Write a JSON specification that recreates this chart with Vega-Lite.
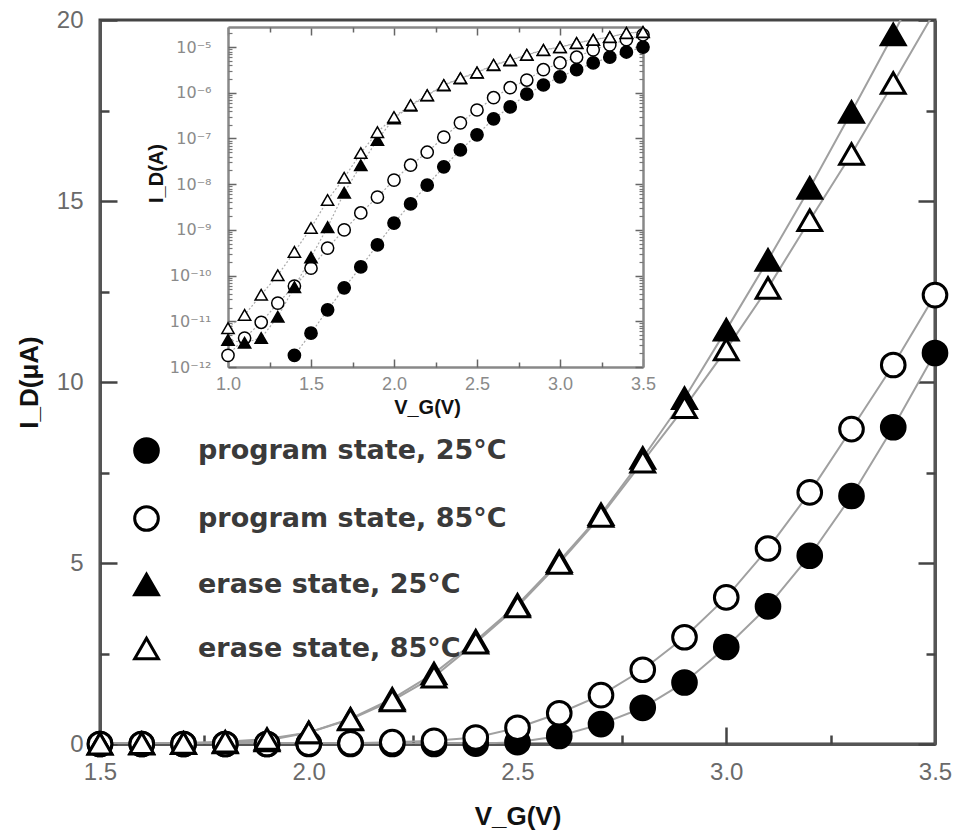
{
  "$schema": "https://vega.github.io/schema/vega-lite/v6.json",
  "width": 835,
  "height": 724,
  "autosize": "none",
  "padding": {"left": 100, "top": 20, "right": 24, "bottom": 92},
  "datasets": {
    "main": [
      {"s": "program state, 25°C", "V": 1.5, "I": 0}, {"s": "program state, 25°C", "V": 1.6, "I": 0}, {"s": "program state, 25°C", "V": 1.7, "I": 0}, {"s": "program state, 25°C", "V": 1.8, "I": 0}, {"s": "program state, 25°C", "V": 1.9, "I": 0}, {"s": "program state, 25°C", "V": 2.0, "I": 0}, {"s": "program state, 25°C", "V": 2.1, "I": 0}, {"s": "program state, 25°C", "V": 2.2, "I": 0}, {"s": "program state, 25°C", "V": 2.3, "I": 0}, {"s": "program state, 25°C", "V": 2.4, "I": 0.01}, {"s": "program state, 25°C", "V": 2.5, "I": 0.05}, {"s": "program state, 25°C", "V": 2.6, "I": 0.22}, {"s": "program state, 25°C", "V": 2.7, "I": 0.55}, {"s": "program state, 25°C", "V": 2.8, "I": 1.0}, {"s": "program state, 25°C", "V": 2.9, "I": 1.7}, {"s": "program state, 25°C", "V": 3.0, "I": 2.68}, {"s": "program state, 25°C", "V": 3.1, "I": 3.8}, {"s": "program state, 25°C", "V": 3.2, "I": 5.2}, {"s": "program state, 25°C", "V": 3.3, "I": 6.85}, {"s": "program state, 25°C", "V": 3.4, "I": 8.75}, {"s": "program state, 25°C", "V": 3.5, "I": 10.8},
      {"s": "program state, 85°C", "V": 1.5, "I": 0}, {"s": "program state, 85°C", "V": 1.6, "I": 0}, {"s": "program state, 85°C", "V": 1.7, "I": 0}, {"s": "program state, 85°C", "V": 1.8, "I": 0}, {"s": "program state, 85°C", "V": 1.9, "I": 0}, {"s": "program state, 85°C", "V": 2.0, "I": 0.01}, {"s": "program state, 85°C", "V": 2.1, "I": 0.02}, {"s": "program state, 85°C", "V": 2.2, "I": 0.05}, {"s": "program state, 85°C", "V": 2.3, "I": 0.09}, {"s": "program state, 85°C", "V": 2.4, "I": 0.18}, {"s": "program state, 85°C", "V": 2.5, "I": 0.45}, {"s": "program state, 85°C", "V": 2.6, "I": 0.85}, {"s": "program state, 85°C", "V": 2.7, "I": 1.35}, {"s": "program state, 85°C", "V": 2.8, "I": 2.05}, {"s": "program state, 85°C", "V": 2.9, "I": 2.95}, {"s": "program state, 85°C", "V": 3.0, "I": 4.05}, {"s": "program state, 85°C", "V": 3.1, "I": 5.4}, {"s": "program state, 85°C", "V": 3.2, "I": 6.95}, {"s": "program state, 85°C", "V": 3.3, "I": 8.7}, {"s": "program state, 85°C", "V": 3.4, "I": 10.47}, {"s": "program state, 85°C", "V": 3.5, "I": 12.4},
      {"s": "erase state, 25°C", "V": 1.5, "I": 0.01}, {"s": "erase state, 25°C", "V": 1.6, "I": 0.01}, {"s": "erase state, 25°C", "V": 1.7, "I": 0.02}, {"s": "erase state, 25°C", "V": 1.8, "I": 0.04}, {"s": "erase state, 25°C", "V": 1.9, "I": 0.1}, {"s": "erase state, 25°C", "V": 2.0, "I": 0.32}, {"s": "erase state, 25°C", "V": 2.1, "I": 0.7}, {"s": "erase state, 25°C", "V": 2.2, "I": 1.25}, {"s": "erase state, 25°C", "V": 2.3, "I": 1.95}, {"s": "erase state, 25°C", "V": 2.4, "I": 2.85}, {"s": "erase state, 25°C", "V": 2.5, "I": 3.85}, {"s": "erase state, 25°C", "V": 2.6, "I": 5.05}, {"s": "erase state, 25°C", "V": 2.7, "I": 6.35}, {"s": "erase state, 25°C", "V": 2.8, "I": 7.9}, {"s": "erase state, 25°C", "V": 2.9, "I": 9.55}, {"s": "erase state, 25°C", "V": 3.0, "I": 11.44}, {"s": "erase state, 25°C", "V": 3.1, "I": 13.37}, {"s": "erase state, 25°C", "V": 3.2, "I": 15.36}, {"s": "erase state, 25°C", "V": 3.3, "I": 17.46}, {"s": "erase state, 25°C", "V": 3.4, "I": 19.6}, {"s": "erase state, 25°C", "V": 3.5, "I": 21.9},
      {"s": "erase state, 85°C", "V": 1.5, "I": 0.01}, {"s": "erase state, 85°C", "V": 1.6, "I": 0.02}, {"s": "erase state, 85°C", "V": 1.7, "I": 0.03}, {"s": "erase state, 85°C", "V": 1.8, "I": 0.06}, {"s": "erase state, 85°C", "V": 1.9, "I": 0.14}, {"s": "erase state, 85°C", "V": 2.0, "I": 0.32}, {"s": "erase state, 85°C", "V": 2.1, "I": 0.68}, {"s": "erase state, 85°C", "V": 2.2, "I": 1.2}, {"s": "erase state, 85°C", "V": 2.3, "I": 1.86}, {"s": "erase state, 85°C", "V": 2.4, "I": 2.8}, {"s": "erase state, 85°C", "V": 2.5, "I": 3.8}, {"s": "erase state, 85°C", "V": 2.6, "I": 5.0}, {"s": "erase state, 85°C", "V": 2.7, "I": 6.3}, {"s": "erase state, 85°C", "V": 2.8, "I": 7.8}, {"s": "erase state, 85°C", "V": 2.9, "I": 9.3}, {"s": "erase state, 85°C", "V": 3.0, "I": 10.9}, {"s": "erase state, 85°C", "V": 3.1, "I": 12.6}, {"s": "erase state, 85°C", "V": 3.2, "I": 14.47}, {"s": "erase state, 85°C", "V": 3.3, "I": 16.3}, {"s": "erase state, 85°C", "V": 3.4, "I": 18.26}, {"s": "erase state, 85°C", "V": 3.5, "I": 20.25}
    ],
    "inset": [
      {"s": "program state, 25°C", "V": 1.4, "I": 1.8e-12}, {"s": "program state, 25°C", "V": 1.5, "I": 5.5e-12}, {"s": "program state, 25°C", "V": 1.6, "I": 1.78e-11}, {"s": "program state, 25°C", "V": 1.7, "I": 5.4e-11}, {"s": "program state, 25°C", "V": 1.8, "I": 1.55e-10}, {"s": "program state, 25°C", "V": 1.9, "I": 4.7e-10}, {"s": "program state, 25°C", "V": 2.0, "I": 1.41e-9}, {"s": "program state, 25°C", "V": 2.1, "I": 3.7e-9}, {"s": "program state, 25°C", "V": 2.2, "I": 9.5e-9}, {"s": "program state, 25°C", "V": 2.3, "I": 2.4e-8}, {"s": "program state, 25°C", "V": 2.4, "I": 5.6e-8}, {"s": "program state, 25°C", "V": 2.5, "I": 1.2e-7}, {"s": "program state, 25°C", "V": 2.6, "I": 2.7e-7}, {"s": "program state, 25°C", "V": 2.7, "I": 4.9e-7}, {"s": "program state, 25°C", "V": 2.8, "I": 9.3e-7}, {"s": "program state, 25°C", "V": 2.9, "I": 1.48e-6}, {"s": "program state, 25°C", "V": 3.0, "I": 2.24e-6}, {"s": "program state, 25°C", "V": 3.1, "I": 3.2e-6}, {"s": "program state, 25°C", "V": 3.2, "I": 4.5e-6}, {"s": "program state, 25°C", "V": 3.3, "I": 6.0e-6}, {"s": "program state, 25°C", "V": 3.4, "I": 7.8e-6}, {"s": "program state, 25°C", "V": 3.5, "I": 1.0e-5},
      {"s": "program state, 85°C", "V": 1.0, "I": 1.8e-12}, {"s": "program state, 85°C", "V": 1.1, "I": 4.3e-12}, {"s": "program state, 85°C", "V": 1.2, "I": 9.5e-12}, {"s": "program state, 85°C", "V": 1.3, "I": 2.5e-11}, {"s": "program state, 85°C", "V": 1.4, "I": 5.9e-11}, {"s": "program state, 85°C", "V": 1.5, "I": 1.45e-10}, {"s": "program state, 85°C", "V": 1.6, "I": 4.0e-10}, {"s": "program state, 85°C", "V": 1.7, "I": 1.0e-9}, {"s": "program state, 85°C", "V": 1.8, "I": 2.35e-9}, {"s": "program state, 85°C", "V": 1.9, "I": 5.2e-9}, {"s": "program state, 85°C", "V": 2.0, "I": 1.23e-8}, {"s": "program state, 85°C", "V": 2.1, "I": 2.6e-8}, {"s": "program state, 85°C", "V": 2.2, "I": 5.0e-8}, {"s": "program state, 85°C", "V": 2.3, "I": 1.07e-7}, {"s": "program state, 85°C", "V": 2.4, "I": 2.2e-7}, {"s": "program state, 85°C", "V": 2.5, "I": 4.2e-7}, {"s": "program state, 85°C", "V": 2.6, "I": 7.8e-7}, {"s": "program state, 85°C", "V": 2.7, "I": 1.29e-6}, {"s": "program state, 85°C", "V": 2.8, "I": 1.9e-6}, {"s": "program state, 85°C", "V": 2.9, "I": 3.2e-6}, {"s": "program state, 85°C", "V": 3.0, "I": 4.5e-6}, {"s": "program state, 85°C", "V": 3.1, "I": 6.0e-6}, {"s": "program state, 85°C", "V": 3.2, "I": 8.7e-6}, {"s": "program state, 85°C", "V": 3.3, "I": 1.12e-5}, {"s": "program state, 85°C", "V": 3.4, "I": 1.45e-5}, {"s": "program state, 85°C", "V": 3.5, "I": 1.86e-5},
      {"s": "erase state, 25°C", "V": 1.0, "I": 3.9e-12}, {"s": "erase state, 25°C", "V": 1.1, "I": 3.4e-12}, {"s": "erase state, 25°C", "V": 1.2, "I": 4.3e-12}, {"s": "erase state, 25°C", "V": 1.3, "I": 1.26e-11}, {"s": "erase state, 25°C", "V": 1.4, "I": 5.6e-11}, {"s": "erase state, 25°C", "V": 1.5, "I": 2.5e-10}, {"s": "erase state, 25°C", "V": 1.6, "I": 1.15e-9}, {"s": "erase state, 25°C", "V": 1.7, "I": 6.5e-9}, {"s": "erase state, 25°C", "V": 1.8, "I": 2.6e-8}, {"s": "erase state, 25°C", "V": 1.9, "I": 9.3e-8}, {"s": "erase state, 25°C", "V": 2.0, "I": 2.75e-7}, {"s": "erase state, 25°C", "V": 2.1, "I": 5.2e-7}, {"s": "erase state, 25°C", "V": 2.2, "I": 8.7e-7}, {"s": "erase state, 25°C", "V": 2.3, "I": 1.45e-6}, {"s": "erase state, 25°C", "V": 2.4, "I": 2.05e-6}, {"s": "erase state, 25°C", "V": 2.5, "I": 2.75e-6}, {"s": "erase state, 25°C", "V": 2.6, "I": 4.0e-6}, {"s": "erase state, 25°C", "V": 2.7, "I": 5.1e-6}, {"s": "erase state, 25°C", "V": 2.8, "I": 6.7e-6}, {"s": "erase state, 25°C", "V": 2.9, "I": 8.6e-6}, {"s": "erase state, 25°C", "V": 3.0, "I": 9.9e-6}, {"s": "erase state, 25°C", "V": 3.1, "I": 1.22e-5}, {"s": "erase state, 25°C", "V": 3.2, "I": 1.44e-5}, {"s": "erase state, 25°C", "V": 3.3, "I": 1.65e-5}, {"s": "erase state, 25°C", "V": 3.4, "I": 2.02e-5}, {"s": "erase state, 25°C", "V": 3.5, "I": 2.12e-5},
      {"s": "erase state, 85°C", "V": 1.0, "I": 7.1e-12}, {"s": "erase state, 85°C", "V": 1.1, "I": 1.38e-11}, {"s": "erase state, 85°C", "V": 1.2, "I": 3.8e-11}, {"s": "erase state, 85°C", "V": 1.3, "I": 1.02e-10}, {"s": "erase state, 85°C", "V": 1.4, "I": 3.3e-10}, {"s": "erase state, 85°C", "V": 1.5, "I": 1.1e-9}, {"s": "erase state, 85°C", "V": 1.6, "I": 4.5e-9}, {"s": "erase state, 85°C", "V": 1.7, "I": 1.38e-8}, {"s": "erase state, 85°C", "V": 1.8, "I": 4.8e-8}, {"s": "erase state, 85°C", "V": 1.9, "I": 1.38e-7}, {"s": "erase state, 85°C", "V": 2.0, "I": 2.95e-7}, {"s": "erase state, 85°C", "V": 2.1, "I": 5.4e-7}, {"s": "erase state, 85°C", "V": 2.2, "I": 8.9e-7}, {"s": "erase state, 85°C", "V": 2.3, "I": 1.48e-6}, {"s": "erase state, 85°C", "V": 2.4, "I": 2.1e-6}, {"s": "erase state, 85°C", "V": 2.5, "I": 2.8e-6}, {"s": "erase state, 85°C", "V": 2.6, "I": 4.1e-6}, {"s": "erase state, 85°C", "V": 2.7, "I": 5.2e-6}, {"s": "erase state, 85°C", "V": 2.8, "I": 6.8e-6}, {"s": "erase state, 85°C", "V": 2.9, "I": 8.7e-6}, {"s": "erase state, 85°C", "V": 3.0, "I": 1.0e-5}, {"s": "erase state, 85°C", "V": 3.1, "I": 1.23e-5}, {"s": "erase state, 85°C", "V": 3.2, "I": 1.45e-5}, {"s": "erase state, 85°C", "V": 3.3, "I": 1.66e-5}, {"s": "erase state, 85°C", "V": 3.4, "I": 2.04e-5}, {"s": "erase state, 85°C", "V": 3.5, "I": 2.14e-5}
    ]
  },
  "layer": [
    {
      "data": {"name": "main"},
      "mark": {"type": "line", "color": "#a0a0a0", "strokeWidth": 2, "clip": true},
      "encoding": {
        "x": {"field": "V", "type": "quantitative", "scale": {"domain": [1.5, 3.5], "nice": false, "zero": false},
          "axis": {"orient": "bottom", "values": [1.5, 2.0, 2.5, 3.0, 3.5], "format": ".1f", "ticks": false, "labelPadding": 16, "labelFontSize": 24, "labelColor": "#6a6a6a", "labelFlush": false, "domainColor": "#555", "domainWidth": 3, "title": "V_G(V)", "titleFontSize": 26, "titleFontWeight": "bold", "titleColor": "#111", "titlePadding": 19}},
        "y": {"field": "I", "type": "quantitative", "scale": {"domain": [0, 20], "nice": false, "zero": false},
          "axis": {"orient": "left", "values": [0, 5, 10, 15, 20], "ticks": false, "labelPadding": 17, "labelFontSize": 24, "labelColor": "#6a6a6a", "domainColor": "#555", "domainWidth": 3, "title": "I_D(μA)", "titleFontSize": 26, "titleFontWeight": "bold", "titleColor": "#111", "titlePadding": 14}},
        "detail": {"field": "s"}
      }
    },
    {
      "data": {"name": "main"},
      "transform": [{"filter": "datum.I <= 20"}],
      "mark": {"type": "point", "filled": true, "strokeWidth": 3, "size": 560, "opacity": 1},
      "encoding": {
        "x": {"field": "V", "type": "quantitative", "scale": {"domain": [1.5, 3.5], "nice": false, "zero": false},
          "axis": {"orient": "top", "offset": -724, "values": [1.5, 2.0, 2.5, 3.0, 3.5], "tickSize": 17, "tickWidth": 2.5, "tickColor": "#444", "labels": false, "domain": false, "title": null}},
        "y": {"field": "I", "type": "quantitative", "scale": {"domain": [0, 20], "nice": false, "zero": false},
          "axis": {"orient": "right", "offset": -835, "values": [0, 5, 10, 15, 20], "tickSize": 17, "tickWidth": 2.5, "tickColor": "#444", "labels": false, "domain": false, "title": null}},
        "shape": {"field": "s", "type": "nominal", "sort": null,
          "scale": {"domain": ["program state, 25°C", "program state, 85°C", "erase state, 25°C", "erase state, 85°C"], "range": ["circle", "circle", "triangle-up", "triangle-up"]},
          "legend": {"title": null, "orient": "none", "legendX": 33, "legendY": 417, "padding": 0, "labelFontSize": 27, "labelFont": "DejaVu Sans", "labelFontWeight": "bold", "labelColor": "#3a3a3a", "labelOffset": 38, "rowPadding": 31, "symbolSize": 560, "symbolStrokeWidth": 3, "labelLimit": 500}},
        "fill": {"field": "s", "type": "nominal", "sort": null,
          "scale": {"domain": ["program state, 25°C", "program state, 85°C", "erase state, 25°C", "erase state, 85°C"], "range": ["black", "white", "black", "white"]},
          "legend": {"title": null, "orient": "none", "legendX": 33, "legendY": 417, "padding": 0, "labelFontSize": 27, "labelFont": "DejaVu Sans", "labelFontWeight": "bold", "labelColor": "#3a3a3a", "labelOffset": 38, "rowPadding": 31, "symbolSize": 560, "symbolStrokeWidth": 3, "labelLimit": 500}},
        "stroke": {"field": "s", "type": "nominal", "sort": null,
          "scale": {"domain": ["program state, 25°C", "program state, 85°C", "erase state, 25°C", "erase state, 85°C"], "range": ["black", "black", "black", "black"]},
          "legend": {"title": null, "orient": "none", "legendX": 33, "legendY": 417, "padding": 0, "labelFontSize": 27, "labelFont": "DejaVu Sans", "labelFontWeight": "bold", "labelColor": "#3a3a3a", "labelOffset": 38, "rowPadding": 31, "symbolSize": 560, "symbolStrokeWidth": 3, "labelLimit": 500}}
      }
    },
    {
      "data": {"name": "main"},
      "mark": {"type": "point", "opacity": 0},
      "encoding": {
        "x": {"field": "V", "type": "quantitative", "scale": {"domain": [1.5, 3.5], "nice": false, "zero": false},
          "axis": {"orient": "top", "offset": -724, "values": [1.75, 2.25, 2.75, 3.25], "tickSize": 9, "tickWidth": 2.5, "tickColor": "#444", "labels": false, "domain": false, "title": null}},
        "y": {"field": "I", "type": "quantitative", "scale": {"domain": [0, 20], "nice": false, "zero": false},
          "axis": {"orient": "right", "offset": -835, "values": [2.5, 7.5, 12.5, 17.5], "tickSize": 9, "tickWidth": 2.5, "tickColor": "#444", "labels": false, "domain": false, "title": null}}
      }
    },
    {
      "data": {"name": "main"},
      "mark": {"type": "point", "opacity": 0},
      "encoding": {
        "x": {"field": "V", "type": "quantitative", "scale": {"domain": [1.5, 3.5], "nice": false, "zero": false}, "axis": null},
        "y": {"field": "I", "type": "quantitative", "scale": {"domain": [0, 20], "nice": false, "zero": false},
          "axis": {"orient": "left", "offset": -835, "values": [0, 5, 10, 15, 20], "tickSize": 17, "tickWidth": 2.5, "tickColor": "#444", "labels": false, "domainColor": "#555", "domainWidth": 3, "title": null}}
      }
    },
    {
      "data": {"name": "main"},
      "mark": {"type": "point", "opacity": 0},
      "encoding": {
        "x": {"field": "V", "type": "quantitative", "scale": {"domain": [1.5, 3.5], "nice": false, "zero": false}, "axis": null},
        "y": {"field": "I", "type": "quantitative", "scale": {"domain": [0, 20], "nice": false, "zero": false},
          "axis": {"orient": "left", "offset": -835, "values": [2.5, 7.5, 12.5, 17.5], "tickSize": 9, "tickWidth": 2.5, "tickColor": "#444", "labels": false, "domain": false, "title": null}}
      }
    },
    {
      "data": {"name": "inset"},
      "mark": {"type": "line", "color": "#aaaaaa", "strokeWidth": 1.2, "strokeDash": [2, 2]},
      "encoding": {
        "x": {"field": "V", "type": "quantitative", "scale": {"domain": [1.0, 3.5], "nice": false, "zero": false, "range": [128, 543]},
          "axis": {"orient": "bottom", "offset": -377, "values": [1.0, 1.5, 2.0, 2.5, 3.0, 3.5], "format": ".1f", "ticks": false, "labelPadding": 8, "labelFontSize": 18, "labelColor": "#8a8a8a", "labelFlush": false, "domainColor": "#888", "domainWidth": 2.5, "title": "V_G(V)", "titleFontSize": 20, "titleFontWeight": "bold", "titleColor": "#111", "titlePadding": 4, "titleX": 327}},
        "y": {"field": "I", "type": "quantitative", "scale": {"type": "log", "domain": [1e-12, 2.75e-5], "nice": false, "range": [347, 7]},
          "axis": {"orient": "left", "offset": -128, "values": [1e-12, 1e-11, 1e-10, 1e-9, 1e-8, 1e-7, 1e-6, 1e-5], "labelExpr": "datum.value < 5e-12 ? '10⁻¹²' : datum.value < 5e-11 ? '10⁻¹¹' : datum.value < 5e-10 ? '10⁻¹⁰' : datum.value < 5e-9 ? '10⁻⁹' : datum.value < 5e-8 ? '10⁻⁸' : datum.value < 5e-7 ? '10⁻⁷' : datum.value < 5e-6 ? '10⁻⁶' : '10⁻⁵'", "ticks": false, "labelPadding": 17, "labelFontSize": 16, "labelColor": "#8a8a8a", "labelFont": "DejaVu Sans", "domainColor": "#888", "domainWidth": 2.5, "title": "I_D(A)", "titleFontSize": 20, "titleFontWeight": "bold", "titleColor": "#111", "titlePadding": 3, "titleY": 153}},
        "detail": {"field": "s"}
      }
    },
    {
      "data": {"name": "inset"},
      "mark": {"type": "point", "filled": true, "strokeWidth": 1.5, "size": 150, "opacity": 1},
      "encoding": {
        "x": {"field": "V", "type": "quantitative", "scale": {"domain": [1.0, 3.5], "nice": false, "zero": false, "range": [128, 543]},
          "axis": {"orient": "top", "offset": -347, "values": [1.0, 1.5, 2.0, 2.5, 3.0, 3.5], "tickSize": 8, "tickWidth": 1.5, "tickColor": "#666", "labels": false, "domain": false, "title": null}},
        "y": {"field": "I", "type": "quantitative", "scale": {"type": "log", "domain": [1e-12, 2.75e-5], "nice": false, "range": [347, 7]},
          "axis": {"orient": "right", "offset": -707, "values": [1e-12, 1e-11, 1e-10, 1e-9, 1e-8, 1e-7, 1e-6, 1e-5], "tickSize": 8, "tickWidth": 1.5, "tickColor": "#666", "labels": false, "domain": false, "title": null}},
        "shape": {"field": "s", "type": "nominal", "sort": null,
          "scale": {"domain": ["program state, 25°C", "program state, 85°C", "erase state, 25°C", "erase state, 85°C"], "range": ["circle", "circle", "triangle-up", "triangle-up"]},
          "legend": {"title": null, "orient": "none", "legendX": 33, "legendY": 417, "padding": 0, "labelFontSize": 27, "labelFont": "DejaVu Sans", "labelFontWeight": "bold", "labelColor": "#3a3a3a", "labelOffset": 38, "rowPadding": 31, "symbolSize": 560, "symbolStrokeWidth": 3, "labelLimit": 500}},
        "fill": {"field": "s", "type": "nominal", "sort": null,
          "scale": {"domain": ["program state, 25°C", "program state, 85°C", "erase state, 25°C", "erase state, 85°C"], "range": ["black", "white", "black", "white"]},
          "legend": {"title": null, "orient": "none", "legendX": 33, "legendY": 417, "padding": 0, "labelFontSize": 27, "labelFont": "DejaVu Sans", "labelFontWeight": "bold", "labelColor": "#3a3a3a", "labelOffset": 38, "rowPadding": 31, "symbolSize": 560, "symbolStrokeWidth": 3, "labelLimit": 500}},
        "stroke": {"field": "s", "type": "nominal", "sort": null,
          "scale": {"domain": ["program state, 25°C", "program state, 85°C", "erase state, 25°C", "erase state, 85°C"], "range": ["black", "black", "black", "black"]},
          "legend": {"title": null, "orient": "none", "legendX": 33, "legendY": 417, "padding": 0, "labelFontSize": 27, "labelFont": "DejaVu Sans", "labelFontWeight": "bold", "labelColor": "#3a3a3a", "labelOffset": 38, "rowPadding": 31, "symbolSize": 560, "symbolStrokeWidth": 3, "labelLimit": 500}}
      }
    },
    {
      "data": {"name": "inset"},
      "mark": {"type": "point", "opacity": 0},
      "encoding": {
        "x": {"field": "V", "type": "quantitative", "scale": {"domain": [1.0, 3.5], "nice": false, "zero": false, "range": [128, 543]},
          "axis": {"orient": "top", "offset": -347, "values": [1.25, 1.75, 2.25, 2.75, 3.25], "tickSize": 5, "tickWidth": 1.5, "tickColor": "#666", "labels": false, "domain": false, "title": null}},
        "y": {"field": "I", "type": "quantitative", "scale": {"type": "log", "domain": [1e-12, 2.75e-5], "nice": false, "range": [347, 7]},
          "axis": {"orient": "right", "offset": -707, "values": [2e-12, 3e-12, 4e-12, 5e-12, 6e-12, 7e-12, 8e-12, 9e-12, 2e-11, 3e-11, 4e-11, 5e-11, 6e-11, 7e-11, 8e-11, 9e-11, 2e-10, 3e-10, 4e-10, 5e-10, 6e-10, 7e-10, 8e-10, 9e-10, 2e-9, 3e-9, 4e-9, 5e-9, 6e-9, 7e-9, 8e-9, 9e-9, 2e-8, 3e-8, 4e-8, 5e-8, 6e-8, 7e-8, 8e-8, 9e-8, 2e-7, 3e-7, 4e-7, 5e-7, 6e-7, 7e-7, 8e-7, 9e-7, 2e-6, 3e-6, 4e-6, 5e-6, 6e-6, 7e-6, 8e-6, 9e-6, 2e-5], "tickSize": 4, "tickWidth": 1.2, "tickColor": "#777", "labels": false, "domain": false, "title": null}}
      }
    },
    {
      "data": {"name": "inset"},
      "mark": {"type": "point", "opacity": 0},
      "encoding": {
        "x": {"field": "V", "type": "quantitative", "scale": {"domain": [1.0, 3.5], "nice": false, "zero": false, "range": [128, 543]},
          "axis": {"orient": "bottom", "offset": -717, "values": [1.0, 1.5, 2.0, 2.5, 3.0, 3.5], "tickSize": 8, "tickWidth": 1.5, "tickColor": "#666", "labels": false, "domainColor": "#888", "domainWidth": 2.5, "title": null}},
        "y": {"field": "I", "type": "quantitative", "scale": {"type": "log", "domain": [1e-12, 2.75e-5], "nice": false, "range": [347, 7]},
          "axis": {"orient": "left", "offset": -543, "values": [1e-12, 1e-11, 1e-10, 1e-9, 1e-8, 1e-7, 1e-6, 1e-5], "tickSize": 8, "tickWidth": 1.5, "tickColor": "#666", "labels": false, "domainColor": "#888", "domainWidth": 2.5, "title": null}}
      }
    },
    {
      "data": {"name": "inset"},
      "mark": {"type": "point", "opacity": 0},
      "encoding": {
        "x": {"field": "V", "type": "quantitative", "scale": {"domain": [1.0, 3.5], "nice": false, "zero": false, "range": [128, 543]},
          "axis": {"orient": "bottom", "offset": -717, "values": [1.25, 1.75, 2.25, 2.75, 3.25], "tickSize": 5, "tickWidth": 1.5, "tickColor": "#666", "labels": false, "domain": false, "title": null}},
        "y": {"field": "I", "type": "quantitative", "scale": {"type": "log", "domain": [1e-12, 2.75e-5], "nice": false, "range": [347, 7]},
          "axis": {"orient": "left", "offset": -543, "values": [2e-12, 3e-12, 4e-12, 5e-12, 6e-12, 7e-12, 8e-12, 9e-12, 2e-11, 3e-11, 4e-11, 5e-11, 6e-11, 7e-11, 8e-11, 9e-11, 2e-10, 3e-10, 4e-10, 5e-10, 6e-10, 7e-10, 8e-10, 9e-10, 2e-9, 3e-9, 4e-9, 5e-9, 6e-9, 7e-9, 8e-9, 9e-9, 2e-8, 3e-8, 4e-8, 5e-8, 6e-8, 7e-8, 8e-8, 9e-8, 2e-7, 3e-7, 4e-7, 5e-7, 6e-7, 7e-7, 8e-7, 9e-7, 2e-6, 3e-6, 4e-6, 5e-6, 6e-6, 7e-6, 8e-6, 9e-6, 2e-5], "tickSize": 4, "tickWidth": 1.2, "tickColor": "#777", "labels": false, "domain": false, "title": null}}
      }
    }
  ],
  "resolve": {"scale": {"x": "independent", "y": "independent"}, "axis": {"x": "independent", "y": "independent"}},
  "config": {
    "view": {"stroke": "#444", "strokeWidth": 3},
    "axis": {"labelFont": "Liberation Sans", "titleFont": "Liberation Sans", "grid": false}
  }
}
